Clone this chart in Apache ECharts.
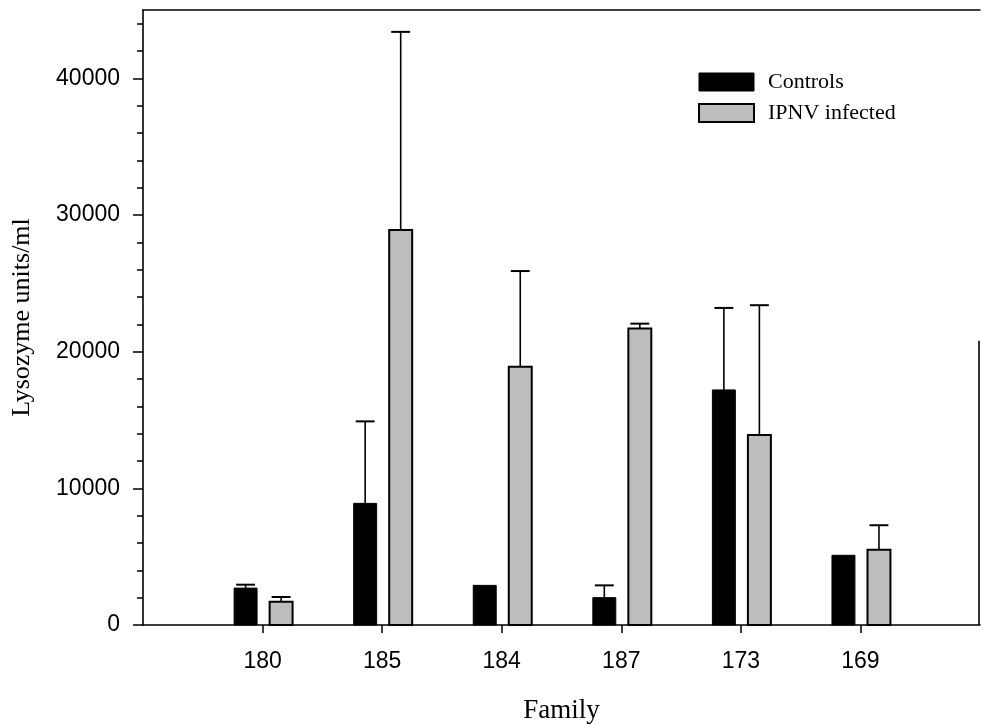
<!DOCTYPE html>
<html>
<head>
<meta charset="utf-8">
<title>Lysozyme activity by family</title>
<script src="https://cdn.jsdelivr.net/npm/echarts@6/dist/echarts.min.js"></script>
<style>
  html, body { margin: 0; padding: 0; background: #fff; }
  #chart { width: 983px; height: 725px; }
</style>
</head>
<body>
<div id="chart"></div>
<script>
// Family labels along the x axis
var families = ['180', '185', '184', '187', '173', '169'];
// Mean lysozyme activity (units/ml) and upper error (SE)
var controls      = [2700, 8900, 2900, 2000, 17200, 5100];
var controlsErr   = [250, 6000, 0, 900, 6000, 0];
var infected      = [1700, 28900, 18900, 21700, 13900, 5500];
var infectedErr   = [350, 14500, 7000, 350, 9500, 1800];
var seriesNames   = ['Controls', 'IPNV infected'];
var yTickLabels   = [0, 10000, 20000, 30000, 40000];
var yMinorTicks   = [2000, 4000, 6000, 8000, 12000, 14000, 16000, 18000,
                     22000, 24000, 26000, 28000, 32000, 34000, 36000, 38000,
                     42000, 44000];

var SERIF = 'Liberation Serif';
var SANS = 'Liberation Sans';
var GRAY = '#bdbdbd';

// empty slots at both ends give the padding on either side of the groups
var xCats = [''].concat(families, ['']);

function toRows(vals, errs) {
  return vals.map(function (v, i) { return [i + 1, v, errs[i]]; });
}

// bar + one-sided error bar, placed relative to the family's tick
function makeRender(offset, fill, stroke, strokeW) {
  return function (params, api) {
    var idx = api.value(0), val = api.value(1), err = api.value(2);
    var step = api.size([1, 0])[0];
    var bw = step * 0.192;
    var cx = api.coord([idx, 0])[0] + step * offset;
    var y0 = api.coord([idx, 0])[1];
    var y1 = api.coord([idx, val])[1];
    var children = [{
      type: 'rect',
      shape: { x: cx - bw / 2, y: y1, width: bw, height: y0 - y1 },
      style: { fill: fill, stroke: stroke, lineWidth: strokeW }
    }];
    if (err > 0) {
      var ye = api.coord([idx, val + err])[1];
      var cw = step * 0.158;
      children.push({
        type: 'line',
        shape: { x1: cx, y1: y1, x2: cx, y2: ye },
        style: { stroke: '#000', lineWidth: 1.6 }
      });
      children.push({
        type: 'line',
        shape: { x1: cx - cw / 2, y1: ye, x2: cx + cw / 2, y2: ye },
        style: { stroke: '#000', lineWidth: 2 }
      });
    }
    return { type: 'group', children: children };
  };
}

var chart = echarts.init(document.getElementById('chart'), null, { renderer: 'canvas' });

var option = {
  backgroundColor: '#fff',
  animation: false,
  grid: { left: 143, right: 3, top: 10, bottom: 100, outerBoundsMode: 'none', containLabel: false },
  legend: {
    orient: 'vertical',
    left: 693,
    top: 66,
    itemWidth: 55,
    itemHeight: 18,
    itemGap: 9,
    icon: 'rect',
    textStyle: { fontFamily: SERIF, fontSize: 22, color: '#000', padding: [0, 0, 0, 9] },
    data: [
      { name: seriesNames[0], itemStyle: { color: '#000', borderColor: '#000', borderWidth: 1 } },
      { name: seriesNames[1], itemStyle: { color: GRAY, borderColor: '#000', borderWidth: 2 } }
    ]
  },
  xAxis: [{
    type: 'category',
    data: xCats,
    boundaryGap: false,
    name: 'Family',
    nameLocation: 'middle',
    nameGap: 72,
    nameTextStyle: { fontFamily: SERIF, fontSize: 27, color: '#000' },
    axisLine: { onZero: false, lineStyle: { color: '#000', width: 1.6 } },
    axisTick: {
      show: true, inside: false, length: 8, alignWithLabel: true,
      interval: function (i, v) { return v !== ''; },
      lineStyle: { color: '#000', width: 1.5 }
    },
    axisLabel: { margin: 25, fontFamily: SANS, fontSize: 23, color: '#000', interval: 0 },
    splitLine: { show: false }
  }, {
    // plain top edge of the frame
    type: 'category',
    position: 'top',
    data: xCats,
    boundaryGap: false,
    axisLine: { show: true, onZero: false, lineStyle: { color: '#000', width: 1.6 } },
    axisTick: { show: false },
    axisLabel: { show: false },
    splitLine: { show: false }
  }],
  yAxis: [{
    type: 'value',
    min: 0,
    max: 45000,
    interval: 10000,
    name: 'Lysozyme units/ml',
    nameLocation: 'middle',
    nameGap: 108,
    nameRotate: 90,
    nameTextStyle: { fontFamily: SERIF, fontSize: 26, color: '#000' },
    axisLine: { show: true, onZero: false, lineStyle: { color: '#000', width: 1.6 } },
    axisTick: { show: true, length: 10, customValues: yTickLabels, lineStyle: { color: '#000', width: 1.5 } },
    axisLabel: {
      margin: 23, fontFamily: SANS, fontSize: 23, color: '#000',
      customValues: yTickLabels,
      formatter: function (v) { return String(v); }
    },
    splitLine: { show: false }
  }, {
    // shorter ticks between the labelled values
    type: 'value',
    position: 'left',
    min: 0,
    max: 45000,
    interval: 2000,
    axisLine: { show: false },
    axisTick: { show: true, length: 6, customValues: yMinorTicks, lineStyle: { color: '#000', width: 1.5 } },
    axisLabel: { show: false },
    splitLine: { show: false }
  }],
  series: [{
    name: seriesNames[0],
    type: 'custom',
    xAxisIndex: 0,
    yAxisIndex: 0,
    itemStyle: { color: '#000' },
    renderItem: makeRender(-0.142, '#000', '#000', 1),
    data: toRows(controls, controlsErr)
  }, {
    name: seriesNames[1],
    type: 'custom',
    xAxisIndex: 0,
    yAxisIndex: 0,
    itemStyle: { color: GRAY, borderColor: '#000', borderWidth: 2 },
    renderItem: makeRender(0.155, GRAY, '#000', 2),
    data: toRows(infected, infectedErr)
  }]
};

chart.setOption(option);

// right edge of the frame, drawn only over its lower part
var pTop = chart.convertToPixel({ xAxisIndex: 0, yAxisIndex: 0 }, [xCats.length - 1, 20800]);
var pBot = chart.convertToPixel({ xAxisIndex: 0, yAxisIndex: 0 }, [xCats.length - 1, 0]);
chart.setOption({
  graphic: [{
    type: 'line',
    shape: { x1: pTop[0] - 1, y1: pTop[1], x2: pBot[0] - 1, y2: pBot[1] },
    style: { stroke: '#000', lineWidth: 1.6 }
  }]
});
</script>
</body>
</html>
